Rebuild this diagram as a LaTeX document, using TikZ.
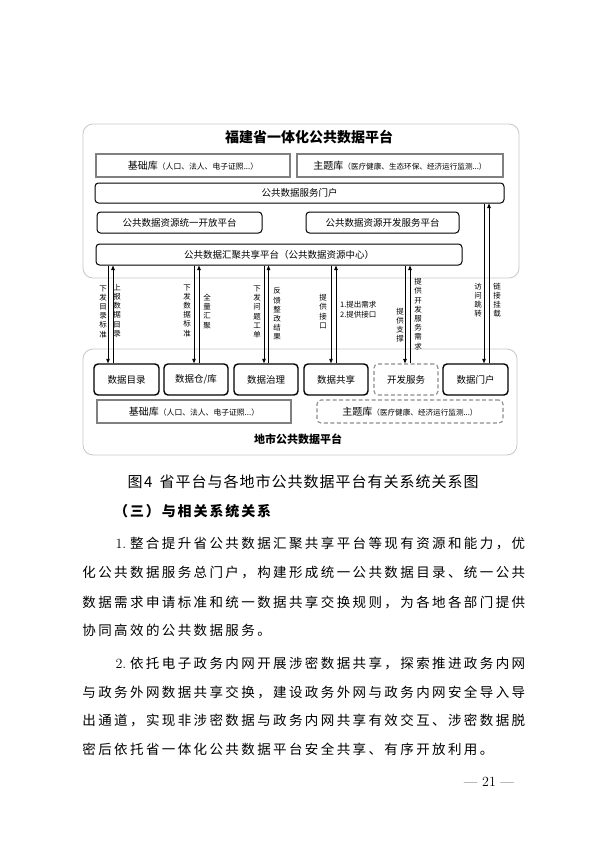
\documentclass[tikz,border=0pt]{standalone}
\usepackage{fontspec}
\newfontfamily\cjk{Noto Sans CJK SC}
\usetikzlibrary{arrows.meta}
\newlength\slotw
\def\endmk{\endmk}
\def\slots#1{\def\tmpa{#1}\ifx\tmpa\endmk\else\makebox[\slotw]{#1}\expandafter\slots\fi}
\newcommand\bodyfont{\cjk\fontsize{13.5}{16}\selectfont\setlength\slotw{15.9pt}}
\begin{document}
\begin{tikzpicture}[x=1pt,y=-1pt,
  outer/.style={draw=black!22, line width=0.8pt, rounded corners=10pt, inner sep=0},
  libbox/.style={draw=black!50, line width=1.1pt, minimum height=23pt, inner sep=0},
  rbox/.style={draw=black, line width=1pt, rounded corners=3.5pt, inner sep=0, font=\cjk\fontsize{9.5}{11}\selectfont},
  cbox/.style={draw=black, line width=1.4pt, rounded corners=4pt, minimum height=31pt, minimum width=64pt, inner sep=0, font=\cjk\fontsize{9.5}{11}\selectfont},
  dbox/.style={draw=black!45, dash pattern=on 4pt off 2.5pt, line width=1.1pt, rounded corners=4pt, inner sep=0},
  arr/.style={line width=0.9pt, -{Triangle[length=4.5pt,width=3.5pt]}},
  vlab/.style={font=\cjk\fontsize{7.5}{9.2}\selectfont, align=center, inner sep=0},
  txt/.style={inner sep=0, anchor=west}
]
\useasboundingbox (0,0) rectangle (600,848);
\fill[white] (0,0) rectangle (600,848);

% provincial platform
\node[outer, minimum width=436pt, minimum height=154pt] (prov) at (301,201) {};
\node[inner sep=0, font=\cjk\bfseries\fontsize{14}{16}\selectfont] (provt) at (309,137) {福建省一体化公共数据平台};
\node[libbox, minimum width=194pt] (jcA) at (193,165.5) {\cjk{\fontsize{10}{12}\selectfont 基础库}{\fontsize{7.8}{10}\selectfont（人口、法人、电子证照...）}};
\node[libbox, minimum width=206pt] (ztA) at (400,165.5) {\cjk{\fontsize{10}{12}\selectfont 主题库}{\fontsize{7.6}{10}\selectfont（医疗健康、生态环保、经济运行监测...）}};
\node[rbox, minimum width=409pt, minimum height=20pt] (mh) at (299.5,193) {公共数据服务门户};
\node[rbox, minimum width=165pt, minimum height=21pt] (kf) at (179.5,222.5) {公共数据资源统一开放平台};
\node[rbox, minimum width=153pt, minimum height=21pt] (kfw) at (382.5,222.5) {公共数据资源开发服务平台};
\node[rbox, minimum width=366pt, minimum height=21pt] (hj) at (279,254.5) {公共数据汇聚共享平台（公共数据资源中心）};

% city platform
\node[outer, minimum width=434pt, minimum height=106pt] (city) at (300,402) {};
\node[cbox, minimum width=65pt] (b1) at (126.5,379.5) {数据目录};
\node[cbox] (b2) at (196,379.5) {数据仓/库};
\node[cbox] (b3) at (266,379.5) {数据治理};
\node[cbox] (b4) at (336,379.5) {数据共享};
\node[dbox, minimum width=64pt, minimum height=31pt, font=\cjk\fontsize{9.5}{11}\selectfont] (b5) at (406,379.5) {开发服务};
\node[cbox, minimum width=65pt] (b6) at (475.5,379.5) {数据门户};
\node[libbox, minimum width=194pt] (jcB) at (194,411.5) {\cjk{\fontsize{10}{12}\selectfont 基础库}{\fontsize{7.8}{10}\selectfont（人口、法人、电子证照...）}};
\node[dbox, minimum width=186pt, minimum height=23pt] (ztB) at (410,411.5) {\cjk{\fontsize{10}{12}\selectfont 主题库}{\fontsize{7.6}{10}\selectfont（医疗健康、经济运行监测...）}};
\node[inner sep=0, font=\cjk\bfseries\fontsize{11}{13}\selectfont] (cityt) at (298,439) {地市公共数据平台};

% connectors
\draw[arr] (108,0 |- hj.south) -- (108,0 |- b1.north);
\draw[arr] (113,0 |- b1.north) -- (113,0 |- hj.south);
\draw[arr] (194,0 |- hj.south) -- (194,0 |- b2.north);
\draw[arr] (199,0 |- b2.north) -- (199,0 |- hj.south);
\draw[arr] (264,0 |- hj.south) -- (264,0 |- b3.north);
\draw[arr] (268.5,0 |- b3.north) -- (268.5,0 |- hj.south);
\draw[arr] (331,0 |- hj.south) -- (331,0 |- b4.north);
\draw[arr] (336,0 |- b4.north) -- (336,0 |- hj.south);
\draw[arr] (405,0 |- hj.south) -- (405,0 |- b5.north);
\draw[arr] (410,0 |- b5.north) -- (410,0 |- hj.south);
\draw[arr] (484,0 |- mh.south) -- (484,0 |- b6.north);
\draw[arr] (489,0 |- b6.north) -- (489,0 |- mh.south);

% connector labels
\node[vlab] (l1) at (103,311.5) {下\\发\\目\\录\\标\\准};
\node[vlab] (l2) at (117,310.5) {上\\报\\数\\据\\目\\录};
\node[vlab] (l3) at (187,310.5) {下\\发\\数\\据\\标\\准};
\node[vlab] (l4) at (207,311.5) {全\\量\\汇\\聚};
\node[vlab] (l5) at (257,312) {下\\发\\问\\题\\工\\单};
\node[vlab] (l6) at (277,314) {反\\馈\\整\\改\\结\\果};
\node[vlab] (l7) at (323,311.5) {提\\供\\接\\口};
\node[inner sep=0, anchor=west, align=left, font=\cjk\fontsize{7.5}{9.5}\selectfont] (l8) at (340,309.5) {1.提出需求\\2.提供接口};
\node[vlab] (l9) at (400,325) {提\\供\\支\\撑};
\node[vlab] (l10) at (418,314) {提\\供\\开\\发\\服\\务\\需\\求};
\node[vlab] (l11) at (478,300) {访\\问\\跳\\转};
\node[vlab] (l12) at (497,300) {链\\接\\挂\\载};

% page text
\node[txt, font=\cjk\fontsize{15}{17}\selectfont] (cap) at (127,482) {\setlength\slotw{16pt}\slots 图{\hspace{1pt}4\hfill}省平台与各地市公共数据平台有关系统关系图\endmk};
\node[txt, font=\cjk\bfseries\fontsize{14}{16}\selectfont] (sec) at (113,511) {\setlength\slotw{15.9pt}\slots （三）与相关系统关系\endmk};
\node[txt] (p1a) at (112.8,543) {\bodyfont\slots {\rmfamily\fontsize{14}{16}\selectfont 1.}整合提升省公共数据汇聚共享平台等现有资源和能力，优\endmk};
\node[txt] (p1b) at (81,573) {\bodyfont\slots 化公共数据服务总门户，构建形成统一公共数据目录、统一公共\endmk};
\node[txt] (p1c) at (81,602) {\bodyfont\slots 数据需求申请标准和统一数据共享交换规则，为各地各部门提供\endmk};
\node[txt] (p1d) at (81,630) {\bodyfont\slots 协同高效的公共数据服务。\endmk};
\node[txt] (p2a) at (112.8,663) {\bodyfont\slots {\rmfamily\fontsize{14}{16}\selectfont 2.}依托电子政务内网开展涉密数据共享，探索推进政务内网\endmk};
\node[txt] (p2b) at (81,692) {\bodyfont\slots 与政务外网数据共享交换，建设政务外网与政务内网安全导入导\endmk};
\node[txt] (p2c) at (81,720) {\bodyfont\slots 出通道，实现非涉密数据与政务内网共享有效交互、涉密数据脱\endmk};
\node[txt] (p2d) at (81,749) {\bodyfont\slots 密后依托省一体化公共数据平台安全共享、有序开放利用。\endmk};
\node[inner sep=0, font=\fontsize{14}{16}\selectfont] (pg) at (489,782) {— 21 —};
\end{tikzpicture}
\end{document}
